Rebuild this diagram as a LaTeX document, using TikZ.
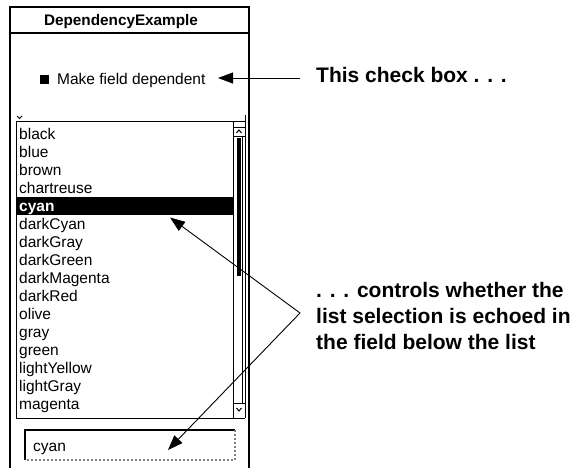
\documentclass[tikz,border=0pt]{standalone}
\usepackage{fontspec}
\setmainfont{Liberation Sans}
\usetikzlibrary{arrows.meta}
\begin{document}
\begin{tikzpicture}[x=1pt,y=-1pt,
  frame/.style={line width=2pt},
  rule/.style={line width=1pt},
  item/.style={anchor=base west, inner sep=0pt, font=\fontsize{15.5}{18}\selectfont},
  note/.style={anchor=base west, inner sep=0pt, font=\fontsize{21}{26}\selectfont\bfseries},
  pointer/.style={line width=0.9pt, -{Triangle[length=15pt,width=11pt]}},
  twoway/.style={line width=0.9pt, {Triangle[length=15pt,width=11pt]}-{Triangle[length=15pt,width=11pt]}},
  chev/.style={line width=1pt, line join=miter},
]
\useasboundingbox (0,0) rectangle (575,468);

% window frame and title bar
\draw[frame] (10,468) -- (10,7) -- (249,7) -- (249,468);
\draw[frame] (10,33) -- (249,33);
\node[anchor=base, inner sep=0pt, font=\fontsize{15.3}{18}\selectfont\bfseries]
  (title) at (121,26) {DependencyExample};

% check box
\fill (40,75) rectangle (49,84);
\node[item] (check) at (57,85) {Make field dependent};

% list box with scroll bar
\draw[rule] (16,418) -- (16,122) -- (245,122) -- (245,115);
\draw[chev] (17,116) -- (19.5,118.5) -- (22,116);
\draw[rule] (233,122) -- (233,418);
\draw[rule] (245,122) -- (245,418);
\draw[rule] (16,418) -- (245,418);
\draw[rule] (233,127) -- (245,127);
\draw[rule] (233,136) -- (245,136);
\draw[chev] (236.5,133) -- (239,130) -- (241.5,133);
\fill (236.5,138) rectangle (240.5,276);
\draw[rule] (242.5,137) -- (242.5,403);
\draw[rule] (233,403) -- (245,403);
\draw[chev] (236.5,408) -- (239,411) -- (241.5,408);

% list entries
\fill (16,197) rectangle (232.5,215);
\foreach \n/\i in {black/0, blue/1, brown/2, chartreuse/3, darkCyan/5,
    darkGray/6, darkGreen/7, darkMagenta/8, darkRed/9, olive/10, gray/11,
    green/12, lightYellow/13, lightGray/14, magenta/15}
  \node[item] (item\i) at (19,139.5+18*\i) {\n};
\node[item, text=white, font=\fontsize{15.5}{18}\selectfont\bfseries]
  (item4) at (19,211.5) {cyan};

% text field
\draw[line width=2.5pt] (25,460) -- (25,430) -- (235,430);
\draw[line width=2pt, gray, dotted] (235,430) -- (235,460) -- (25,460);
\node[item] (fieldtext) at (33,451) {cyan};

% annotations
\node[note] (boxnote) at (316,83) {This check box . . .};
\node[note, align=left, anchor=north west] (ctrlnote) at (316,282)
  {. . . controls whether the\\list selection is echoed in\\the field below the list};

\coordinate (boxstart) at (300,78);
\coordinate (boxtip) at (218,78);
\draw[pointer] (boxstart) -- (boxtip);

\coordinate (fork) at (300,313);
\coordinate (listtip) at (170,217.5);
\coordinate (fieldtip) at (168,450);
\draw[twoway] (listtip) -- (fork) -- (fieldtip);
\end{tikzpicture}
\end{document}
